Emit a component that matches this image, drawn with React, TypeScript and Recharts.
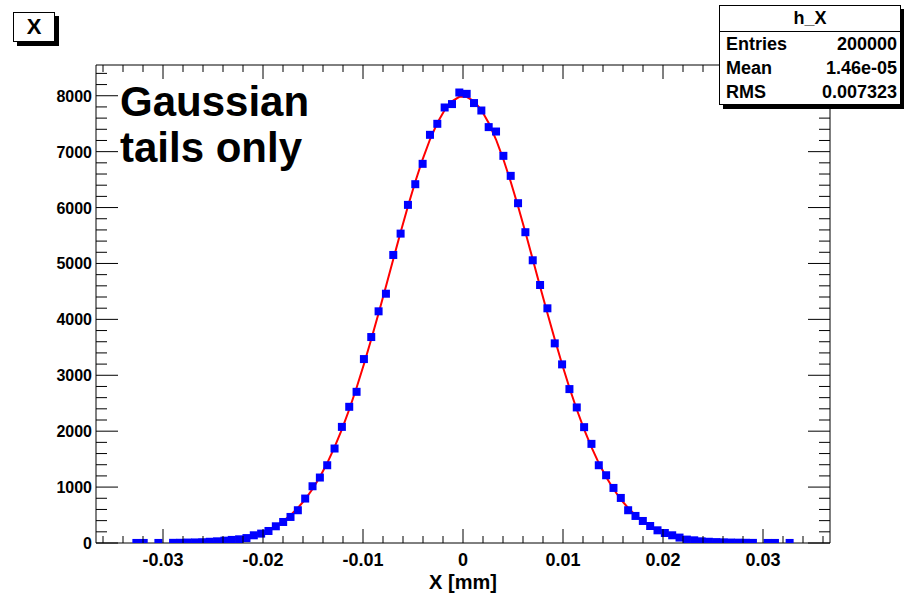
import { ComposedChart, XAxis, YAxis, Scatter, Line } from "recharts";

// histogram h_X: 100 bins between X_MIN and X_MAX
const X_MIN = -0.0367;
const X_MAX = 0.0367;
const N_BINS = 100;
const Y_MAX = 8550;

// entries per bin, null = empty bin (no marker drawn)
const counts: (number | null)[] = [
  null, null, null, null, null, 1, 1, null, 1, null,
  3, 4, 8, 10, 14, 22, 30, 42, 55, 66,
  88, 138, 168, 215, 299, 376, 466, 586, 795, 1015,
  1171, 1391, 1690, 2077, 2436, 2704, 3290, 3684, 4144, 4459,
  5152, 5534, 6048, 6418, 6782, 7301, 7498, 7790, 7851, 8058,
  8034, 7869, 7736, 7439, 7360, 6925, 6567, 6078, 5559, 5057,
  4615, 4198, 3571, 3195, 2753, 2425, 2072, 1773, 1391, 1212,
  985, 806, 586, 484, 394, 304, 227, 179, 138, 97,
  61, 48, 30, 22, 16, 12, 8, 6, 4, 2,
  null, 1, 1, null, 1, null, null, null, null, null,
];

// gaussian fit curve read at the bin centres
const fitValues: (number | null)[] = [
  null, null, null, null, null, null, null, null, null, null,
  null, null, 7, 10, 14, 20, 28, 39, 54, 74,
  101, 135, 178, 234, 304, 391, 498, 627, 782, 966,
  1181, 1430, 1714, 2033, 2388, 2777, 3196, 3643, 4110, 4590,
  5076, 5557, 6022, 6461, 6863, 7217, 7513, 7743, 7900, 7980,
  7980, 7900, 7743, 7513, 7217, 6863, 6461, 6022, 5557, 5076,
  4590, 4110, 3643, 3196, 2777, 2388, 2033, 1714, 1430, 1181,
  966, 782, 627, 498, 391, 304, 234, 178, 135, 101,
  74, 54, 39, 28, 20, 14, 10, 7, null, null,
  null, null, null, null, null, null, null, null, null, null,
];

const xTicks = [
  -0.036, -0.034, -0.032, -0.03, -0.028, -0.026, -0.024, -0.022, -0.02,
  -0.018, -0.016, -0.014, -0.012, -0.01, -0.008, -0.006, -0.004, -0.002, 0,
  0.002, 0.004, 0.006, 0.008, 0.01, 0.012, 0.014, 0.016, 0.018, 0.02,
  0.022, 0.024, 0.026, 0.028, 0.03, 0.032, 0.034, 0.036,
];
const xLabels: Record<string, string> = {
  "-0.03": "-0.03", "-0.02": "-0.02", "-0.01": "-0.01", "0": "0",
  "0.01": "0.01", "0.02": "0.02", "0.03": "0.03",
};
const yTicks = [
  0, 200, 400, 600, 800, 1000, 1200, 1400, 1600, 1800, 2000, 2200, 2400, 2600,
  2800, 3000, 3200, 3400, 3600, 3800, 4000, 4200, 4400, 4600, 4800, 5000, 5200,
  5400, 5600, 5800, 6000, 6200, 6400, 6600, 6800, 7000, 7200, 7400, 7600, 7800,
  8000, 8200, 8400,
];

const statsTitle = "h_X";
const statsRows = [
  ["Entries", "200000"],
  ["Mean", "1.46e-05"],
  ["RMS", "0.007323"],
];

const binWidth = (X_MAX - X_MIN) / N_BINS;
const data = counts.map((c, i) => ({
  x: X_MIN + binWidth * (i + 0.5),
  count: c,
  fit: fitValues[i],
}));
const points = data.filter((d) => d.count !== null);

const FONT = "'Liberation Sans', Arial, sans-serif";

const isMajorX = (v: number) => xLabels[String(v)] !== undefined;
const isMajorY = (v: number) => v % 1000 === 0;

const BottomTick = (props: any) => {
  const { x, y, payload } = props;
  const major = isMajorX(payload.value);
  return (
    <g>
      <line x1={x} x2={x} y1={y} y2={y - (major ? 14 : 7)} stroke="#000" />
      {major && (
        <text x={x} y={y + 23} textAnchor="middle" fontSize={18} fontWeight="bold" fontFamily={FONT} fill="#000">
          {xLabels[String(payload.value)]}
        </text>
      )}
    </g>
  );
};

const TopTick = (props: any) => {
  const { x, y, payload } = props;
  const major = isMajorX(payload.value);
  return <line x1={x} x2={x} y1={y} y2={y + (major ? 14 : 7)} stroke="#000" />;
};

const LeftTick = (props: any) => {
  const { x, y, payload } = props;
  const major = isMajorY(payload.value);
  return (
    <g>
      <line x1={x} x2={x + (major ? 22 : 11)} y1={y} y2={y} stroke="#000" />
      {major && (
        <text x={x - 4} y={y + 6} textAnchor="end" fontSize={16} fontWeight="bold" fontFamily={FONT} fill="#000">
          {payload.value}
        </text>
      )}
    </g>
  );
};

const RightTick = (props: any) => {
  const { x, y, payload } = props;
  const major = isMajorY(payload.value);
  return <line x1={x} x2={x - (major ? 22 : 11)} y1={y} y2={y} stroke="#000" />;
};

const SquareMarker = (props: any) => {
  const { cx, cy } = props;
  if (cx == null || cy == null) return null;
  return <rect x={cx - 4} y={cy - 4} width={8} height={8} fill="#0000ff" />;
};

export default function App() {
  return (
    <div style={{ position: "absolute", left: 0, top: 0, width: 904, height: 593, background: "#fff", fontFamily: FONT }}>
      <ComposedChart
        width={904}
        height={593}
        data={data}
        margin={{ top: 64, right: 73, bottom: 10, left: 0 }}
      >
        <XAxis
          xAxisId="bottom"
          dataKey="x"
          type="number"
          domain={[X_MIN, X_MAX]}
          allowDataOverflow
          ticks={xTicks}
          interval={0}
          height={40}
          tickSize={0}
          tickMargin={0}
          tickLine={false}
          tick={<BottomTick />}
          axisLine={{ stroke: "#000" }}
          label={{ value: "X [mm]", position: "insideBottom", offset: -6, fontSize: 20, fontWeight: "bold", fill: "#000", fontFamily: FONT }}
        />
        <XAxis
          xAxisId="top"
          orientation="top"
          dataKey="x"
          type="number"
          domain={[X_MIN, X_MAX]}
          allowDataOverflow
          ticks={xTicks}
          interval={0}
          height={1}
          tickSize={0}
          tickMargin={0}
          tickLine={false}
          tick={<TopTick />}
          axisLine={{ stroke: "#000" }}
        />
        <YAxis
          yAxisId="left"
          type="number"
          domain={[0, Y_MAX]}
          allowDataOverflow
          ticks={yTicks}
          interval={0}
          width={96}
          tickSize={0}
          tickMargin={0}
          tickLine={false}
          tick={<LeftTick />}
          axisLine={{ stroke: "#000" }}
        />
        <YAxis
          yAxisId="right"
          orientation="right"
          type="number"
          domain={[0, Y_MAX]}
          allowDataOverflow
          ticks={yTicks}
          interval={0}
          width={1}
          tickSize={0}
          tickMargin={0}
          tickLine={false}
          tick={<RightTick />}
          axisLine={{ stroke: "#000" }}
        />
        {/* invisible series so the mirrored top/right axes get their scales */}
        <Line
          xAxisId="top"
          yAxisId="right"
          dataKey="fit"
          stroke="none"
          dot={false}
          activeDot={false}
          isAnimationActive={false}
        />
        <Line
          xAxisId="bottom"
          yAxisId="left"
          dataKey="fit"
          type="linear"
          stroke="#ff0000"
          strokeWidth={2}
          dot={false}
          isAnimationActive={false}
        />
        <Scatter
          xAxisId="bottom"
          yAxisId="left"
          data={points}
          dataKey="count"
          shape={<SquareMarker />}
          isAnimationActive={false}
        />
      </ComposedChart>

      <div style={{ position: "absolute", left: 120, top: 79, fontSize: 42, lineHeight: "46px", fontWeight: "bold", color: "#000" }}>
        Gaussian
        <br />
        tails only
      </div>

      <div style={{ position: "absolute", left: 13, top: 12, width: 40, height: 28, border: "1px solid #000", background: "#fff", boxShadow: "4px 4px 0 #000", fontSize: 22, fontWeight: "bold", textAlign: "center", lineHeight: "28px" }}>
        X
      </div>

      <div style={{ position: "absolute", left: 719, top: 5, width: 180, height: 98, border: "1px solid #000", background: "#fff", boxShadow: "4px 4px 0 #000", fontWeight: "bold", fontSize: 18 }}>
        <div style={{ height: 25, lineHeight: "25px", textAlign: "center", borderBottom: "1px solid #000" }}>{statsTitle}</div>
        {statsRows.map(([k, v]) => (
          <div key={k} style={{ display: "flex", justifyContent: "space-between", height: 24, lineHeight: "24px", padding: "0 3px 0 6px" }}>
            <span>{k}</span>
            <span>{v}</span>
          </div>
        ))}
      </div>
    </div>
  );
}
